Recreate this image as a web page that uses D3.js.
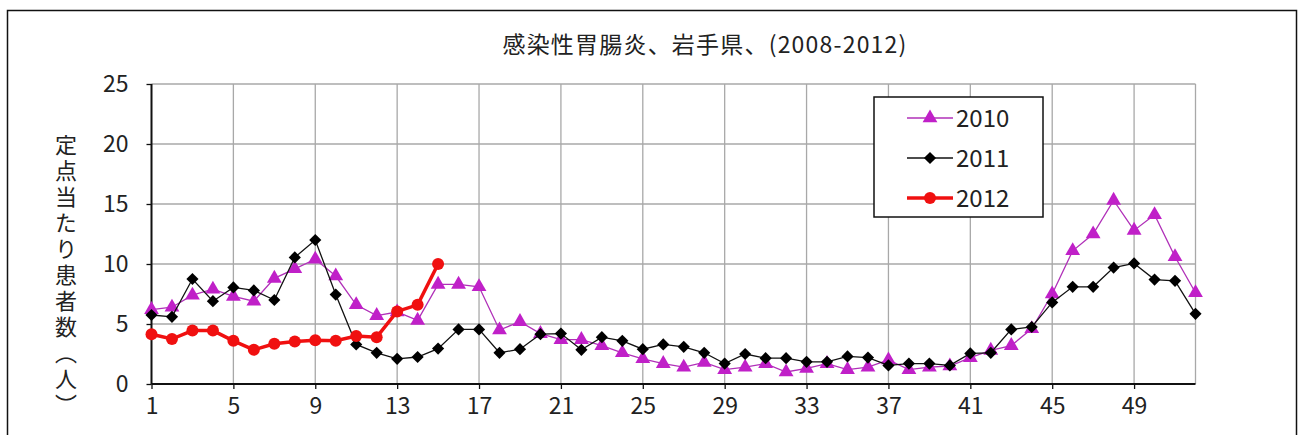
<!DOCTYPE html>
<html>
<head>
<meta charset="utf-8">
<script src="https://cdn.jsdelivr.net/npm/d3@7"></script>
<style>
  html, body { margin: 0; padding: 0; background: #fff; }
  svg { display: block; }
  text { font-family: "Noto Sans CJK JP", "Liberation Sans", sans-serif; fill: #222; }
</style>
</head>
<body>
<svg id="chart" width="1302" height="435"></svg>
<script>
// Weekly reports per sentinel site, weeks 1–52
const weeks = d3.range(1, 53);
const seriesNames = ["2010", "2011", "2012"];
const values2010 = [6.2, 6.4, 7.4, 7.9, 7.3, 6.9, 8.8, 9.6, 10.4, 9.0, 6.6, 5.7, 6.0, 5.3, 8.3, 8.3, 8.1, 4.5, 5.2, 4.2,
  3.7, 3.7, 3.2, 2.6, 2.1, 1.7, 1.4, 1.8, 1.2, 1.4, 1.7, 1.0, 1.3, 1.7, 1.2, 1.4, 2.0, 1.2, 1.4, 1.5,
  2.2, 2.8, 3.2, 4.6, 7.5, 11.1, 12.5, 15.3, 12.8, 14.1, 10.6, 7.6];
const values2011 = [5.75, 5.6, 8.75, 6.9, 8.05, 7.8, 7.0, 10.55, 12.0, 7.45, 3.3, 2.6, 2.1, 2.25, 2.95, 4.55, 4.55, 2.6, 2.9, 4.15,
  4.2, 2.85, 3.9, 3.6, 2.9, 3.3, 3.1, 2.6, 1.7, 2.5, 2.15, 2.15, 1.85, 1.85, 2.3, 2.2, 1.55, 1.7, 1.7, 1.55,
  2.55, 2.6, 4.55, 4.75, 6.8, 8.1, 8.1, 9.7, 10.05, 8.7, 8.6, 5.85];
const values2012 = [4.15, 3.75, 4.45, 4.45, 3.6, 2.85, 3.35, 3.55, 3.65, 3.6, 4.0, 3.9, 6.05, 6.6, 10.0];
const xTicks = [1, 5, 9, 13, 17, 21, 25, 29, 33, 37, 41, 45, 49];
const yTicks = [0, 5, 10, 15, 20, 25];
const titleText = "感染性胃腸炎、岩手県、(2008-2012)";
const yLabel = "定点当たり患者数（人）";

const svg = d3.select("#chart");

// outer frame
svg.append("rect").attr("x", 7.5).attr("y", 10.5).attr("width", 1289).attr("height", 440)
  .attr("fill", "none").attr("stroke", "#111").attr("stroke-width", 1.5);

const x = d3.scaleLinear().domain([1, 52]).range([151.5, 1195.5]);
const y = d3.scaleLinear().domain([0, 25]).range([384, 84]);

const grid = svg.append("g");
// horizontal grid
grid.selectAll("line.h").data(yTicks.filter(d => d > 0)).join("line")
  .attr("x1", x(1)).attr("x2", x(52))
  .attr("y1", d => y(d)).attr("y2", d => y(d))
  .attr("stroke", "#a8a8a8").attr("stroke-width", 1.3);
// vertical grid
grid.selectAll("line.v").data(xTicks.filter(d => d > 1).concat([52])).join("line")
  .attr("x1", d => x(d)).attr("x2", d => x(d))
  .attr("y1", y(25)).attr("y2", y(0))
  .attr("stroke", "#a8a8a8").attr("stroke-width", 1.3);

// axes
const xAxis = d3.axisBottom(x).tickValues(xTicks).tickSize(5).tickPadding(9).tickFormat(d3.format("d"));
const yAxis = d3.axisLeft(y).tickValues(yTicks).tickSize(5).tickPadding(18).tickFormat(d3.format("d"));

const gx = svg.append("g").attr("transform", `translate(0,${y(0)})`).call(xAxis);
const gy = svg.append("g").attr("transform", `translate(${x(1)},0)`).call(yAxis);
[gx, gy].forEach(g => {
  g.select(".domain").attr("stroke", "#111").attr("stroke-width", 2);
  g.selectAll(".tick line").attr("stroke", "#111").attr("stroke-width", 1.3);
  g.selectAll(".tick text").attr("font-size", 23).attr("fill", "#333")
    .attr("font-family", "'Liberation Sans', sans-serif");
});
gy.select(".domain").attr("d", `M0,${y(0)}V${y(25)}`);
gx.select(".domain").attr("d", `M${x(1)},0H${x(52)}`);

// title
svg.append("text").attr("x", 705).attr("y", 53).attr("text-anchor", "middle")
  .attr("font-size", 23).attr("letter-spacing", 1.2).text(titleText);

// vertical axis label
svg.append("text").attr("x", 66).attr("y", 134)
  .style("writing-mode", "vertical-rl")
  .attr("font-size", 22).attr("letter-spacing", 4).text(yLabel);

// series
const line = d3.line().x(d => x(d[0])).y(d => y(d[1]));
const s2010 = values2010.map((v, i) => [weeks[i], v]);
const s2011 = values2011.map((v, i) => [weeks[i], v]);
const s2012 = values2012.map((v, i) => [weeks[i], v]);

const tri = d3.symbol().type(d3.symbolTriangle).size(95);
// square turned 45° for the diamond marker
const dia = d3.symbol().type(d3.symbolSquare).size(74);

// 2010
svg.append("path").datum(s2010).attr("d", line).attr("fill", "none")
  .attr("stroke", "#b030b8").attr("stroke-width", 1.3);
svg.append("g").selectAll("path").data(s2010).join("path")
  .attr("d", tri).attr("transform", d => `translate(${x(d[0])},${y(d[1])})`)
  .attr("fill", "#c020c8");

// 2011
svg.append("path").datum(s2011).attr("d", line).attr("fill", "none")
  .attr("stroke", "#111").attr("stroke-width", 1.3);
svg.append("g").selectAll("path").data(s2011).join("path")
  .attr("d", dia).attr("transform", d => `translate(${x(d[0])},${y(d[1])}) rotate(45)`)
  .attr("fill", "#000");

// 2012
svg.append("path").datum(s2012).attr("d", line).attr("fill", "none")
  .attr("stroke", "#f01010").attr("stroke-width", 3.5);
svg.append("g").selectAll("circle").data(s2012).join("circle")
  .attr("cx", d => x(d[0])).attr("cy", d => y(d[1])).attr("r", 6)
  .attr("fill", "#f01010");

// legend
const legend = svg.append("g");
legend.append("rect").attr("x", 874).attr("y", 97).attr("width", 169).attr("height", 120)
  .attr("fill", "#fff").attr("stroke", "#111").attr("stroke-width", 1.5);
const legendItems = [
  { name: seriesNames[0], color: "#b030b8", width: 1.3, mark: "tri" },
  { name: seriesNames[1], color: "#111", width: 1.3, mark: "dia" },
  { name: seriesNames[2], color: "#f01010", width: 3.5, mark: "circle" }
];
legendItems.forEach((it, i) => {
  const ly = 118 + i * 40;
  legend.append("line").attr("x1", 907).attr("x2", 953).attr("y1", ly).attr("y2", ly)
    .attr("stroke", it.color).attr("stroke-width", it.width);
  if (it.mark === "tri") {
    legend.append("path").attr("d", tri).attr("transform", `translate(930,${ly})`).attr("fill", "#c020c8");
  } else if (it.mark === "dia") {
    legend.append("path").attr("d", dia).attr("transform", `translate(930,${ly}) rotate(45)`).attr("fill", "#000");
  } else {
    legend.append("circle").attr("cx", 930).attr("cy", ly).attr("r", 6).attr("fill", it.color);
  }
  legend.append("text").attr("x", 956).attr("y", ly + 8.5).attr("font-size", 24)
    .attr("font-family", "'Liberation Sans', sans-serif").attr("fill", "#222").text(it.name);
});
</script>
</body>
</html>
